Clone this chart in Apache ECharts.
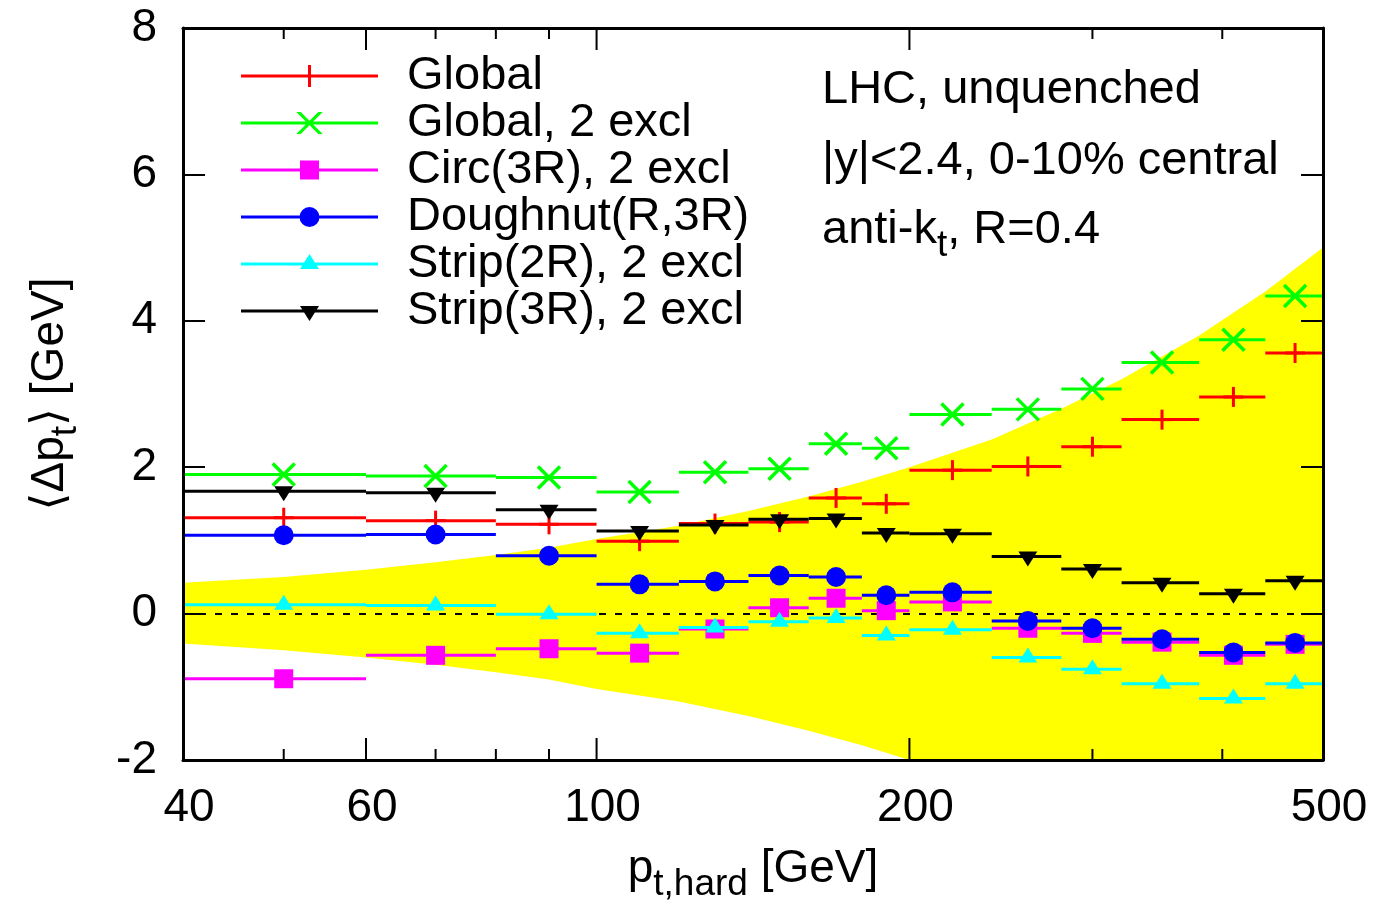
<!DOCTYPE html>
<html>
<head>
<meta charset="utf-8">
<script src="https://cdn.jsdelivr.net/npm/echarts@6/dist/echarts.min.js"></script>
<style>html,body{margin:0;padding:0;background:#fff}#c{width:1394px;height:908px}</style>
</head>
<body>
<div id="c"></div>
<script>
// ---------- data ----------
const binLow    = [40, 60, 80, 100, 120, 140, 160, 180, 200, 240, 280, 320, 380, 440];
const binHigh   = [60, 80, 100, 120, 140, 160, 180, 200, 240, 280, 320, 380, 440, 500];
const binCenter = [50, 70, 90, 110, 130, 150, 170, 190, 220, 260, 300, 350, 410, 470];

const seriesNames = ['Global', 'Global, 2 excl', 'Circ(3R), 2 excl', 'Doughnut(R,3R)', 'Strip(2R), 2 excl', 'Strip(3R), 2 excl'];

const globalVals   = [1.31, 1.27, 1.22, 0.99, 1.23, 1.25, 1.58, 1.50, 1.96, 2.01, 2.28, 2.65, 2.96, 3.56];
const global2Vals  = [1.90, 1.88, 1.86, 1.66, 1.93, 1.98, 2.32, 2.26, 2.72, 2.79, 3.07, 3.43, 3.74, 4.34];
const circVals     = [-0.89, -0.57, -0.48, -0.54, -0.21, 0.08, 0.21, 0.04, 0.16, -0.20, -0.27, -0.39, -0.57, -0.42];
const doughnutVals = [1.07, 1.08, 0.79, 0.40, 0.44, 0.52, 0.50, 0.25, 0.29, -0.10, -0.20, -0.35, -0.53, -0.40];
const strip2Vals   = [0.12, 0.11, -0.01, -0.27, -0.19, -0.11, -0.06, -0.30, -0.22, -0.60, -0.76, -0.96, -1.16, -0.96];
const strip3Vals   = [1.67, 1.65, 1.42, 1.13, 1.21, 1.29, 1.30, 1.10, 1.09, 0.78, 0.61, 0.42, 0.27, 0.45];

const bandPt    = [40, 50, 60, 70, 80, 90, 100, 120, 140, 160, 180, 200, 240, 280, 320, 380, 440, 500];
const bandUpper = [0.42, 0.50, 0.60, 0.70, 0.80, 0.90, 1.02, 1.20, 1.40, 1.60, 1.80, 2.00, 2.38, 2.80, 3.20, 3.80, 4.40, 5.00];
const bandLower = [-0.41, -0.50, -0.60, -0.70, -0.80, -0.90, -1.03, -1.20, -1.40, -1.60, -1.80, -2.00, -2.38, -2.80, -3.20, -3.80, -4.40, -5.00];

const xMajorTicks = [40, 60, 100, 200, 500];
const xTickLabels = ['40', '60', '100', '200', '500'];
const xMinorTicks = [50, 70, 80, 90, 300, 400];
const yMin = -2, yMax = 8, yStep = 2;

// ---------- styling ----------
const FONT = '"Liberation Sans", Arial, Helvetica, "DejaVu Sans", sans-serif';
const colors = ['#ff0000', '#00ff00', '#ff00ff', '#0000ff', '#00ffff', '#000000'];
const markers = ['plus', 'cross', 'square', 'circle', 'triUp', 'triDown'];
const allVals = [globalVals, global2Vals, circVals, doughnutVals, strip2Vals, strip3Vals];

function markerEls(kind, cx, cy, color) {
  switch (kind) {
    case 'plus': return [
      {type: 'line', shape: {x1: cx - 10, y1: cy, x2: cx + 10, y2: cy}, style: {stroke: color, lineWidth: 3}},
      {type: 'line', shape: {x1: cx, y1: cy - 10, x2: cx, y2: cy + 10}, style: {stroke: color, lineWidth: 3}}];
    case 'cross': return [
      {type: 'line', shape: {x1: cx - 11, y1: cy - 11, x2: cx + 11, y2: cy + 11}, style: {stroke: color, lineWidth: 3.5}},
      {type: 'line', shape: {x1: cx - 11, y1: cy + 11, x2: cx + 11, y2: cy - 11}, style: {stroke: color, lineWidth: 3.5}}];
    case 'square': return [
      {type: 'rect', shape: {x: cx - 9.5, y: cy - 9.5, width: 19, height: 19}, style: {fill: color}}];
    case 'circle': return [
      {type: 'circle', shape: {cx: cx, cy: cy, r: 10}, style: {fill: color}}];
    case 'triUp': return [
      {type: 'polygon', shape: {points: [[cx, cy - 10], [cx + 9.5, cy + 5], [cx - 9.5, cy + 5]]}, style: {fill: color}}];
    case 'triDown': return [
      {type: 'polygon', shape: {points: [[cx - 9.5, cy - 5], [cx + 9.5, cy - 5], [cx, cy + 10]]}, style: {fill: color}}];
  }
  return [];
}

// legend icons: 137 x 22 box, horizontal bar + marker
const BOX = 'M0,0h0.01v0.01h-0.01z M136.99,21.99h0.01v0.01h-0.01z ';
const BAR = 'M0,9.5H137V12.5H0Z ';
const legendIcons = {
  plus:    'path://' + BOX + BAR + 'M67,0H70V22H67Z',
  cross:   'path://' + BOX + BAR + 'M55.3,0H59.7L81.7,22H77.3Z M77.3,0H81.7L59.7,22H55.3Z',
  square:  'path://' + BOX + BAR + 'M59,1.5H78V20.5H59Z',
  circle:  'path://' + BOX + BAR + 'M58.5,11A10,10 0 1,1 78.5,11A10,10 0 1,1 58.5,11Z',
  triUp:   'path://' + BOX + BAR + 'M68.5,1L78,16H59Z',
  triDown: 'path://' + BOX + BAR + 'M59,6H78L68.5,21Z'
};

const dataSeries = seriesNames.map((name, s) => ({
  type: 'custom',
  name: name,
  xAxisIndex: 0, yAxisIndex: 0,
  z: 5,
  silent: true,
  itemStyle: {color: colors[s]},
  dimensions: ['lo', 'hi', 'center', 'value'],
  encode: {x: [0, 1, 2], y: 3},
  data: binCenter.map((c, i) => [binLow[i], binHigh[i], c, allVals[s][i]]),
  renderItem: (params, api) => {
    const lo = api.coord([api.value(0), api.value(3)]);
    const hi = api.coord([api.value(1), api.value(3)]);
    const c = api.coord([api.value(2), api.value(3)]);
    const children = [{type: 'line', shape: {x1: lo[0], y1: lo[1], x2: hi[0], y2: hi[1]}, style: {stroke: colors[s], lineWidth: 3}}]
      .concat(markerEls(markers[s], c[0], c[1], colors[s]));
    return {type: 'group', children: children};
  }
}));

const tickSeries = {
  type: 'custom',
  name: 'xticks',
  xAxisIndex: 0, yAxisIndex: 0,
  z: 10, silent: true,
  dimensions: ['v', 'major', 'idx'],
  encode: {x: 0, y: 1},
  data: xMajorTicks.map((v, i) => [v, 1, i]).concat(xMinorTicks.map(v => [v, 0, -1])),
  renderItem: (params, api) => {
    const v = api.value(0), major = api.value(1) === 1, idx = api.value(2);
    const b = api.coord([v, yMin]), t = api.coord([v, yMax]);
    const len = major ? 22 : 11;
    const ch = [
      {type: 'line', shape: {x1: b[0], y1: b[1], x2: b[0], y2: b[1] - len}, style: {stroke: '#000', lineWidth: 2}},
      {type: 'line', shape: {x1: t[0], y1: t[1], x2: t[0], y2: t[1] + len}, style: {stroke: '#000', lineWidth: 2}}
    ];
    if (major) {
      ch.push({type: 'text', x: b[0] + 6, y: b[1] + 25,
        style: {text: xTickLabels[idx], fontSize: 46, fontFamily: FONT, fill: '#000', align: 'center', verticalAlign: 'top', lineHeight: 46}});
    }
    return {type: 'group', children: ch};
  }
};

const bandUpSeries = {
  type: 'line', name: 'bandUp', xAxisIndex: 0, yAxisIndex: 0, z: 1, silent: true,
  symbol: 'none', showSymbol: false, clip: true,
  lineStyle: {width: 0, opacity: 0},
  areaStyle: {color: '#ffff00', opacity: 1, origin: -0.02},
  data: bandPt.map((p, i) => [p, bandUpper[i]]),
  markLine: {
    silent: true, z: 3, symbol: ['none', 'none'], label: {show: false},
    lineStyle: {color: '#000', type: [7, 9], width: 2},
    data: [{yAxis: 0}]
  }
};
const bandLowSeries = {
  type: 'line', name: 'bandLow', xAxisIndex: 0, yAxisIndex: 0, z: 1, silent: true,
  symbol: 'none', showSymbol: false, clip: true,
  lineStyle: {width: 0, opacity: 0},
  areaStyle: {color: '#ffff00', opacity: 1, origin: 0.02},
  data: bandPt.map((p, i) => [p, bandLower[i]])
};

const richName = {
  s: {fontSize: 37, fontFamily: FONT, color: '#000', lineHeight: 37, padding: [30, 0, 0, 0]}
};

const chart = echarts.init(document.getElementById('c'), null, {renderer: 'canvas'});
chart.setOption({
  animation: false,
  backgroundColor: '#fff',
  grid: {left: 183, right: 71, top: 28, bottom: 146, show: false},
  xAxis: [
    {type: 'log', logBase: 10, min: 40, max: 500, position: 'bottom', z: 10,
     axisLine: {show: true, onZero: false, lineStyle: {color: '#000', width: 3}},
     axisTick: {show: false}, axisLabel: {show: false}, splitLine: {show: false}, minorTick: {show: false},
     name: 'p{s|t,hard} [GeV]', nameLocation: 'middle', nameGap: 76,
     nameTextStyle: {fontSize: 46, fontFamily: FONT, color: '#000', lineHeight: 67, rich: richName}},
    {type: 'log', logBase: 10, min: 40, max: 500, position: 'top', z: 10,
     axisLine: {show: true, onZero: false, lineStyle: {color: '#000', width: 3}},
     axisTick: {show: false}, axisLabel: {show: false}, splitLine: {show: false}}
  ],
  yAxis: [
    {type: 'value', min: yMin, max: yMax, interval: yStep, position: 'left', z: 10,
     axisLine: {show: true, onZero: false, lineStyle: {color: '#000', width: 3}},
     axisTick: {show: true, inside: true, length: 22, lineStyle: {color: '#000', width: 2}},
     axisLabel: {fontSize: 46, fontFamily: FONT, color: '#000', margin: 26},
     splitLine: {show: false},
     name: '⟨Δp{s|t}⟩ [GeV]', nameLocation: 'middle', nameGap: 99, nameRotate: 90,
     nameTextStyle: {fontSize: 46, fontFamily: FONT, color: '#000', lineHeight: 67, rich: richName}},
    {type: 'value', min: yMin, max: yMax, interval: yStep, position: 'right', z: 10,
     axisLine: {show: true, onZero: false, lineStyle: {color: '#000', width: 3}},
     axisTick: {show: true, inside: true, length: 22, lineStyle: {color: '#000', width: 2}},
     axisLabel: {show: false}, splitLine: {show: false}}
  ],
  legend: {
    orient: 'vertical', left: 241, top: 52.5, padding: 0,
    itemWidth: 137, itemHeight: 22, itemGap: 0,
    selectedMode: false,
    textStyle: {fontSize: 47, fontFamily: FONT, color: '#000', lineHeight: 47, padding: [0, 0, 0, 24]},
    data: seriesNames.map((n, i) => ({name: n, icon: legendIcons[markers[i]]}))
  },
  graphic: [
    {type: 'text', x: 822, y: 67, silent: true,
     style: {text: 'LHC, unquenched', fontSize: 47, fontFamily: FONT, fill: '#000', verticalAlign: 'top', lineHeight: 47}},
    {type: 'text', x: 822, y: 138, silent: true,
     style: {text: '|y|<2.4, 0-10% central', fontSize: 47, fontFamily: FONT, fill: '#000', verticalAlign: 'top', lineHeight: 47}},
    {type: 'text', x: 822, y: 197, silent: true,
     style: {text: 'anti-k{s|t}, R=0.4', fontSize: 47, fontFamily: FONT, fill: '#000', verticalAlign: 'top', lineHeight: 67,
             rich: {s: {fontSize: 37, fontFamily: FONT, fill: '#000', lineHeight: 37, padding: [30, 0, 0, 0]}}}}
  ],
  series: [bandUpSeries, bandLowSeries].concat(dataSeries).concat([tickSeries])
});
</script>
</body>
</html>
